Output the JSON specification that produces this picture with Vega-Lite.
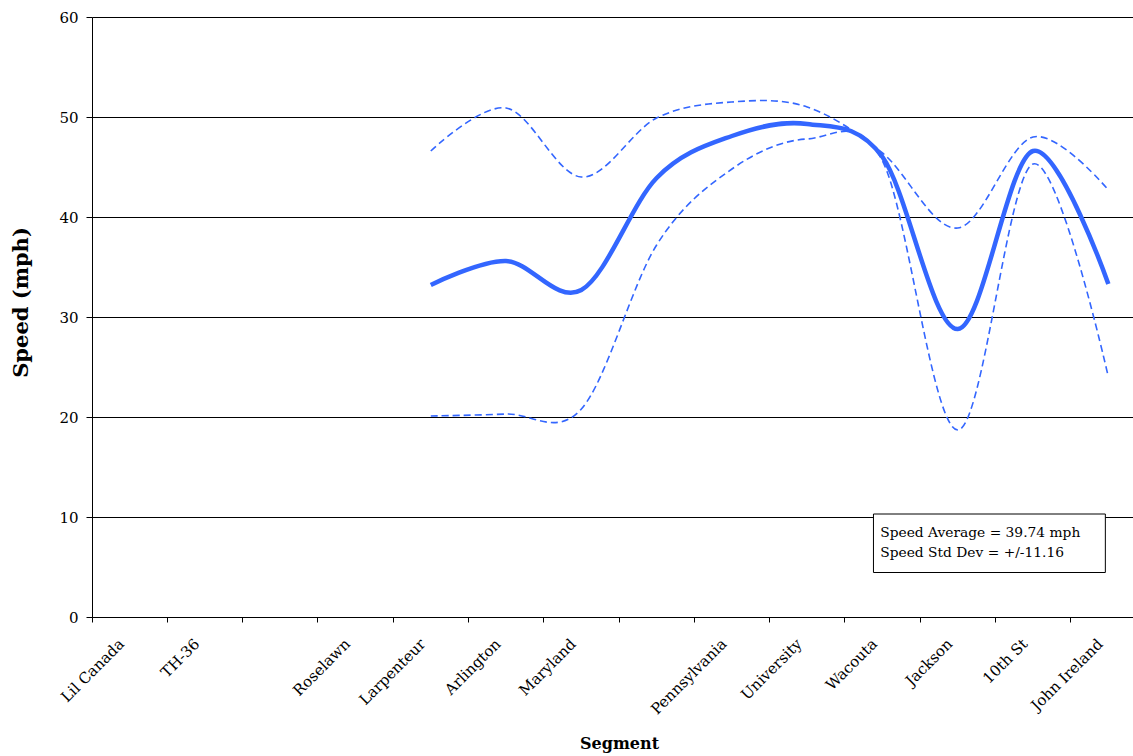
{
  "$schema": "https://vega.github.io/schema/vega-lite/v6.json",
  "description": "Segment speed average with +/- one standard deviation",
  "width": 1041,
  "height": 600,
  "autosize": "none",
  "padding": {"left": 92, "top": 17, "right": 0, "bottom": 139},
  "background": "white",
  "config": {
    "view": {"stroke": null},
    "font": "DejaVu Serif",
    "axis": {
      "labelFont": "DejaVu Serif",
      "labelFontSize": 15,
      "labelColor": "black",
      "titleFont": "DejaVu Serif",
      "titleFontWeight": "bold",
      "titleColor": "black",
      "domainColor": "black",
      "tickColor": "black",
      "gridColor": "black",
      "gridOpacity": 1
    }
  },
  "data": {
    "values": [
      {"segment": "Larpenteur", "avg": 33.2, "upper": 46.6, "lower": 20.1},
      {"segment": "Arlington", "avg": 35.6, "upper": 50.9, "lower": 20.3},
      {"segment": "Maryland", "avg": 32.7, "upper": 44.0, "lower": 20.8},
      {"segment": "  ", "avg": 43.9, "upper": 49.9, "lower": 37.2},
      {"segment": "Pennsylvania", "avg": 48.1, "upper": 51.5, "lower": 44.8},
      {"segment": "University", "avg": 49.3, "upper": 51.0, "lower": 47.8},
      {"segment": "Wacouta", "avg": 46.0, "upper": 46.4, "lower": 45.6},
      {"segment": "Jackson", "avg": 28.8, "upper": 38.9, "lower": 18.7},
      {"segment": "10th St", "avg": 46.6, "upper": 48.0, "lower": 45.3},
      {"segment": "John Ireland", "avg": 33.3, "upper": 42.7, "lower": 24.0}
    ]
  },
  "encoding": {
    "x": {
      "field": "segment",
      "type": "nominal",
      "scale": {
        "domain": ["Lil Canada", "TH-36", " ", "Roselawn", "Larpenteur", "Arlington", "Maryland", "  ", "Pennsylvania", "University", "Wacouta", "Jackson", "10th St", "John Ireland"],
        "range": [0, 1054],
        "paddingInner": 0,
        "paddingOuter": 0
      },
      "axis": {
        "title": "Segment",
        "titleFontSize": 16,
        "titleBaseline": "alphabetic",
        "titleY": 131,
        "labelAngle": -45,
        "labelAlign": "right",
        "labelBaseline": "middle",
        "bandPosition": 0,
        "labelOffset": -8,
        "labelPadding": 19,
        "tickSize": 5,
        "grid": false
      }
    }
  },
  "layer": [
    {
      "mark": {"type": "line", "interpolate": "cardinal", "color": "#3366FF", "strokeWidth": 1.6, "strokeDash": [7, 4]},
      "encoding": {
        "y": {
          "field": "upper",
          "type": "quantitative",
          "scale": {"domain": [0, 60]},
          "axis": {
            "title": "Speed (mph)",
            "titleFontSize": 21,
            "titleBaseline": "middle",
            "titleX": -71,
            "titleY": 285,
            "values": [0, 10, 20, 30, 40, 50, 60],
            "tickSize": 6,
            "labelPadding": 8,
            "grid": true
          }
        }
      }
    },
    {
      "mark": {"type": "line", "interpolate": "cardinal", "color": "#3366FF", "strokeWidth": 1.6, "strokeDash": [7, 4]},
      "encoding": {"y": {"field": "lower", "type": "quantitative"}}
    },
    {
      "mark": {"type": "line", "interpolate": "cardinal", "color": "#3366FF", "strokeWidth": 4.5},
      "encoding": {"y": {"field": "avg", "type": "quantitative"}}
    },
    {
      "data": {"values": [{"x1": "Wacouta", "x2": "John Ireland", "y1": 10.3, "y2": 4.45}]},
      "mark": {"type": "rect", "fill": "white", "stroke": "black", "strokeWidth": 1},
      "encoding": {
        "x": {"field": "x1", "type": "nominal", "bandPosition": 0.38},
        "x2": {"field": "x2", "bandPosition": 0.46},
        "y": {"field": "y1", "type": "quantitative"},
        "y2": {"field": "y2"}
      }
    },
    {
      "data": {
        "values": [
          {"x": "Wacouta", "y": 8.03, "label": "Speed Average = 39.74 mph"},
          {"x": "Wacouta", "y": 6.03, "label": "Speed Std Dev = +/-11.16"}
        ]
      },
      "mark": {"type": "text", "align": "left", "baseline": "alphabetic", "font": "DejaVu Serif", "fontSize": 13.8, "color": "black"},
      "encoding": {
        "x": {"field": "x", "type": "nominal", "bandPosition": 0.47},
        "y": {"field": "y", "type": "quantitative"},
        "text": {"field": "label"}
      }
    }
  ]
}
